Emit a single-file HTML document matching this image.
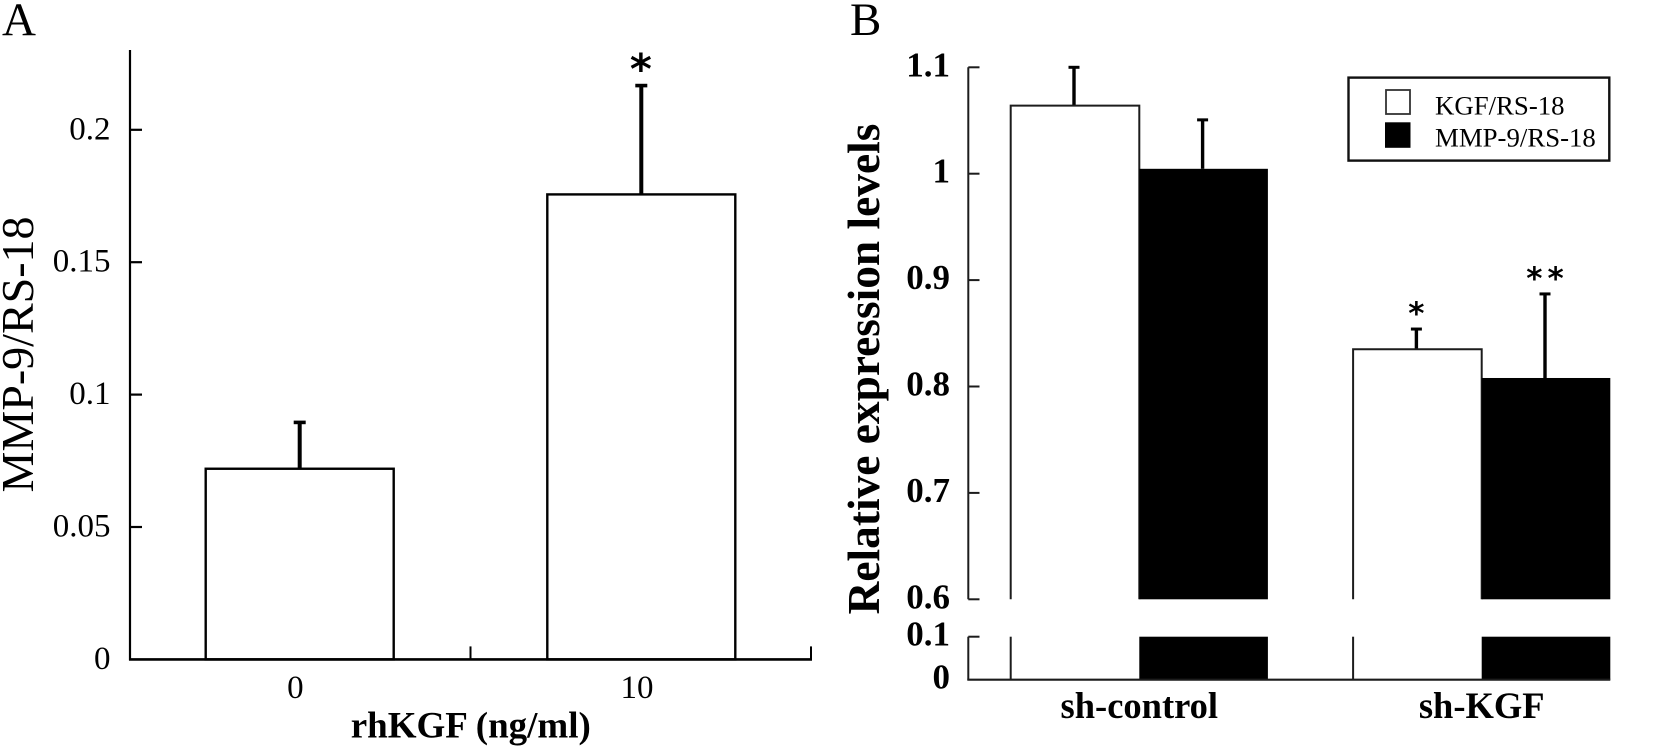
<!DOCTYPE html>
<html lang="en">
<head>
<meta charset="utf-8">
<title>MMP-9 and KGF expression bar charts</title>
<style>
html,body{margin:0;padding:0;background:#fff;width:1654px;height:746px;overflow:hidden}
svg{display:block}
text{font-family:"Liberation Serif","Times New Roman",serif;fill:#000}
text.star{font-family:"DejaVu Sans",sans-serif}
</style>
</head>
<body>
<svg id="chart" width="1654" height="746" viewBox="0 0 1654 746" xmlns="http://www.w3.org/2000/svg"></svg>
<script>
// Panel A data
const aCategories = ['0', '10'];
const aValues = [0.072, 0.1756];
const aErrors = [0.0175, 0.0411];
const aStars = ['', '*'];
const aTicks = [0, 0.05, 0.1, 0.15, 0.2];
const aTickLabels = ['0', '0.05', '0.1', '0.15', '0.2'];

// Panel B data
const bCategories = ['sh-control', 'sh-KGF'];
const bSeriesNames = ['KGF/RS-18', 'MMP-9/RS-18'];
const bKgf = [1.064, 0.835];
const bMmp = [1.0046, 0.808];
const bKgfErrors = [0.036, 0.019];
const bMmpErrors = [0.046, 0.079];
const bKgfStars = ['', '*'];
const bMmpStars = ['', '**'];
const bTicks = [0, 0.1, 0.6, 0.7, 0.8, 0.9, 1, 1.1];
const bTickLabels = ['0', '0.1', '0.6', '0.7', '0.8', '0.9', '1', '1.1'];

const svg = document.getElementById('chart');
const NS = 'http://www.w3.org/2000/svg';

function make(tag, attrs, text) {
  const el = document.createElementNS(NS, tag);
  for (const k in attrs) el.setAttribute(k, attrs[k]);
  if (text !== undefined) el.textContent = text;
  svg.appendChild(el);
  return el;
}
function line(x1, y1, x2, y2, color, width) {
  return make('line', {x1, y1, x2, y2, stroke: color, 'stroke-width': width});
}
function rect(x, y, w, h, fill, stroke, sw) {
  return make('rect', {x, y, width: w, height: h, fill, stroke: stroke || 'none', 'stroke-width': sw || 0});
}
function label(x, y, str, size, anchor, bold, rotate) {
  const attrs = {x, y, 'font-size': size, 'text-anchor': anchor, 'font-weight': bold ? 'bold' : 'normal'};
  if (rotate) attrs.transform = 'rotate(-90 ' + x + ' ' + y + ')';
  return make('text', attrs, str);
}
function starMark(x, y, str, size) {
  const t = label(x + (str.length - 1) * 2.5, y, str, size, 'middle', true);
  t.setAttribute('class', 'star');
  if (str.length > 1) t.setAttribute('letter-spacing', '5');
  return t;
}

// Axis functions
const aY = v => 659.4 - v * 2648;
const aBarX = i => 205.7 + i * 341.6;
const aBarW = 188;
const bUpperY = v => 599.3 - (v - 0.6) * 1064;
const bLowerY = v => 679.7 - v * 430;
const bY = v => (v >= 0.6 ? bUpperY(v) : bLowerY(v));
const bGroupX = i => 1010.7 + i * 342.4;
const bBarW = 128.6;

// ---------- Panel A ----------
let el = label(2, 35, 'A', 47, 'start', false);



aValues.forEach((v, i) => {
  const x = aBarX(i);
  const cx = x + aBarW / 2;
  const err = line(cx, aY(v), cx, aY(v + aErrors[i]), '#000', 4);
  
  
  const cap = line(cx - 6, aY(v + aErrors[i]), cx + 6, aY(v + aErrors[i]), '#000', 3.6);
  
  
  const bar = rect(x, aY(v), aBarW, aY(0) - aY(v), '#fff', '#000', 2.4);
  
  
  const cat = label(cx - 4.3, 698, aCategories[i], 33, 'middle', false);
  
  
  if (aStars[i]) {
    const star = starMark(cx - 0.5, aY(v + aErrors[i]) - 2, aStars[i], 42);
    
    
  }
});

el = line(130, 50, 130, aY(0) + 1, '#000', 2.2);


el = line(129, aY(0), 812, aY(0), '#000', 2.6);


el = line(470.5, aY(0) - 13, 470.5, aY(0), '#000', 2);


el = line(811, aY(0) - 13, 811, aY(0), '#000', 2);



aTicks.forEach((t, i) => {
  if (t > 0) {
    const tick = line(130, aY(t), 142, aY(t), '#000', 2.2);
    
    
  }
  const lab = label(110.5, aY(t) + 9.5, aTickLabels[i], 33, 'end', false);
  
  
});

el = label(33, 354.5, 'MMP-9/RS-18', 46, 'middle', false, true);


el = label(470.8, 737.3, 'rhKGF (ng/ml)', 37, 'middle', true);



// ---------- Panel B ----------
el = label(850, 35, 'B', 47, 'start', false);



const bInk = '#1c1c1c';
const segTop = bUpperY(0.6);
const lowTop = bLowerY(0.1);
const base = bLowerY(0);

bCategories.forEach((c, i) => {
  const x = bGroupX(i);
  const mx = x + bBarW;
  const wc = x + bBarW / 2 - 1;
  const bc = mx + bBarW / 2 - 1;
  // white bar
  const wt = bY(bKgf[i]);
  const errW = line(wc, wt, wc, bY(bKgf[i] + bKgfErrors[i]), '#000', 3.4);
  
  
  const capW = line(wc - 5.5, bY(bKgf[i] + bKgfErrors[i]), wc + 5.5, bY(bKgf[i] + bKgfErrors[i]), '#000', 3);
  
  
  const white = make('path', {d: 'M' + x + ' ' + segTop + 'V' + wt + 'H' + mx + 'V' + segTop, fill: '#fff', stroke: bInk, 'stroke-width': 2});
  
  
  const whiteLow = line(x, lowTop, x, base, bInk, 2);
  
  
  // black bar
  const bt = bY(bMmp[i]);
  const errB = line(bc, bt, bc, bY(bMmp[i] + bMmpErrors[i]), '#000', 3.4);
  
  
  const capB = line(bc - 5.5, bY(bMmp[i] + bMmpErrors[i]), bc + 5.5, bY(bMmp[i] + bMmpErrors[i]), '#000', 3);
  
  
  const black = rect(mx, bt, bBarW, segTop - bt, '#000');
  
  
  const blackLow = rect(mx, lowTop, bBarW, base - lowTop, '#000');
  
  
  // labels
  const cat = label(mx, 718, c, 36.5, 'middle', true);
  
  
  if (bKgfStars[i]) {
    const s1 = starMark(wc, bY(bKgf[i] + bKgfErrors[i]) - 5, bKgfStars[i], 31);
    
    
  }
  if (bMmpStars[i]) {
    const s2 = starMark(bc, bY(bMmp[i] + bMmpErrors[i]) - 5, bMmpStars[i], 31);
    
    
  }
});

el = line(968.3, bUpperY(1.1), 968.3, segTop, bInk, 2);


el = line(968.3, lowTop, 968.3, base, bInk, 2);


el = line(967.3, base, bGroupX(1) + 2 * bBarW, base, bInk, 2.2);



bTicks.forEach((t, i) => {
  const y = bY(t);
  if (t > 0) {
    const tick = line(968.3, y, 979.5, y, bInk, 2);
    
    
  }
  const lab = label(950, y + 9, bTickLabels[i], 35, 'end', true);
  
  
});

el = label(879, 369, 'Relative expression levels', 45.4, 'middle', true, true);



// Legend
el = rect(1348.5, 77.6, 260.8, 83, '#fff', '#111', 2.4);


el = rect(1386, 90, 24, 24, '#fff', '#333', 1.8);


el = rect(1385, 122.3, 25.5, 25.5, '#000');


el = label(1435, 114.3, bSeriesNames[0], 26.8, 'start', false);


el = label(1435, 146.7, bSeriesNames[1], 26.8, 'start', false);


</script>
</body>
</html>
